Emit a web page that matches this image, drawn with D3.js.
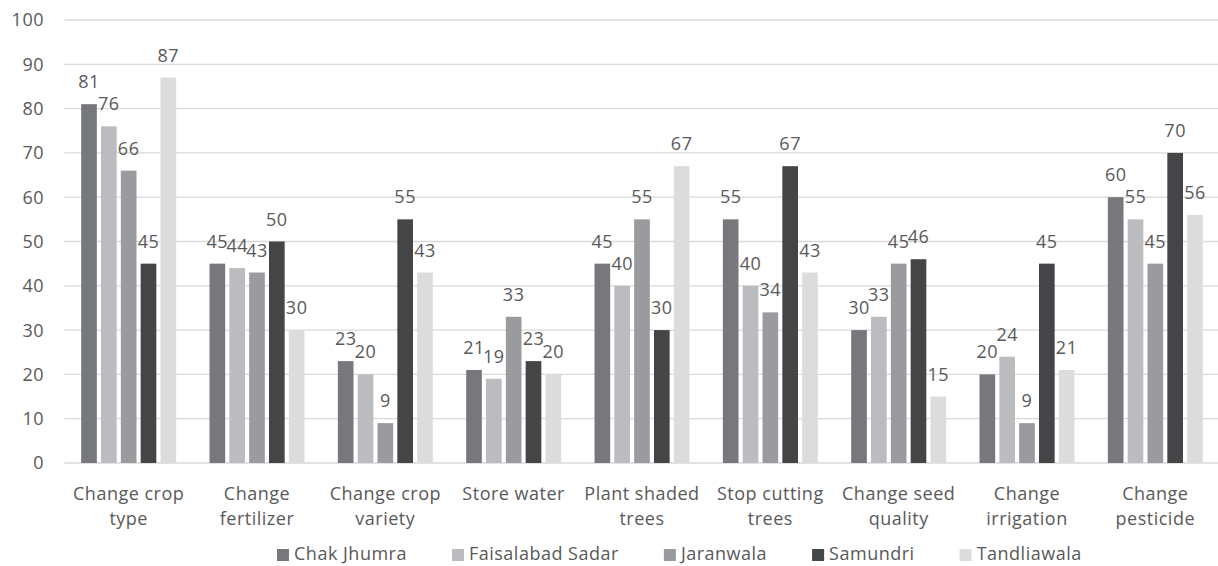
<html>
<meta charset='utf-8'>
<head>
    <script src="https://d3js.org/d3.v7.min.js"></script>
    <style>
      body { margin: 0; background: #fff; }
      text { font-family: "Open Sans", sans-serif; fill: #595959; font-size: 18px; letter-spacing: 0.5px; }
    </style>
</head>
<body>
<div id='viz'></div>
<script>
    // chart data
    let categories = [
      ['Change crop', 'type'],
      ['Change', 'fertilizer'],
      ['Change crop', 'variety'],
      ['Store water'],
      ['Plant shaded', 'trees'],
      ['Stop cutting', 'trees'],
      ['Change seed', 'quality'],
      ['Change', 'irrigation'],
      ['Change', 'pesticide']
    ];
    let districts = ['Chak Jhumra', 'Faisalabad Sadar', 'Jaranwala', 'Samundri', 'Tandliawala'];
    let chakJhumra      = [81, 45, 23, 21, 45, 55, 30, 20, 60];
    let faisalabadSadar = [76, 44, 20, 19, 40, 40, 33, 24, 55];
    let jaranwala       = [66, 43, 9, 33, 55, 34, 45, 9, 45];
    let samundri        = [45, 50, 55, 23, 30, 67, 46, 45, 70];
    let tandliawala     = [87, 30, 43, 20, 67, 43, 15, 21, 56];
    let yTicks = [0, 10, 20, 30, 40, 50, 60, 70, 80, 90, 100];

    let series = [chakJhumra, faisalabadSadar, jaranwala, samundri, tandliawala];
    let colors = ['#77787b', '#bbbcbf', '#9a9b9e', '#444547', '#dcdcde'];

    let width = 1218, height = 566;
    let plotLeft = 64.5, plotRight = 1219.5, plotTop = 20, plotBottom = 463;

    let svg = d3.select('#viz').append('svg')
                .attr('width', width)
                .attr('height', height);

    let x0 = d3.scaleBand()
               .domain(d3.range(categories.length))
               .range([plotLeft, plotRight])
               .paddingInner(0.26)
               .paddingOuter(0.13);
    let x1 = d3.scaleBand()
               .domain(d3.range(districts.length))
               .range([0, x0.bandwidth()])
               .paddingInner(0.21);
    let y = d3.scaleLinear().domain([0, 100]).range([plotBottom, plotTop]);

    // gridlines
    svg.append('g')
       .selectAll('line')
       .data(yTicks)
       .join('line')
       .attr('x1', plotLeft)
       .attr('x2', plotRight)
       .attr('y1', d => y(d))
       .attr('y2', d => y(d))
       .attr('stroke', '#d9d9d9')
       .attr('stroke-width', 1.3);

    // y tick labels
    svg.append('g')
       .selectAll('text')
       .data(yTicks)
       .join('text')
       .attr('x', 44)
       .attr('y', d => y(d))
       .attr('dy', '0.36em')
       .attr('text-anchor', 'end')
       .text(d => d);

    // bars + labels
    series.forEach((vals, s) => {
      let g = svg.append('g');
      g.selectAll('rect')
       .data(vals)
       .join('rect')
       .attr('x', (d, i) => x0(i) + x1(s))
       .attr('width', x1.bandwidth())
       .attr('y', d => y(d))
       .attr('height', d => y(0) - y(d))
       .attr('fill', colors[s]);

      g.selectAll('text')
       .data(vals)
       .join('text')
       .attr('x', (d, i) => x0(i) + x1(s) + x1.bandwidth() / 2)
       .attr('y', d => y(d) - 16)
       .attr('text-anchor', 'middle')
       .text(d => d);
    });

    // category labels
    categories.forEach((lines, i) => {
      let t = svg.append('text')
                 .attr('x', x0(i) + x0.bandwidth() / 2)
                 .attr('y', 500)
                 .attr('text-anchor', 'middle');
      lines.forEach((l, k) => {
        t.append('tspan')
         .attr('x', x0(i) + x0.bandwidth() / 2)
         .attr('dy', k == 0 ? 0 : 25)
         .text(l);
      });
    });

    // legend
    let legend = svg.append('g');
    let lx = 277;
    districts.forEach((name, s) => {
      legend.append('rect')
            .attr('x', lx)
            .attr('y', 549)
            .attr('width', 12)
            .attr('height', 12)
            .attr('fill', colors[s]);
      let t = legend.append('text')
                    .attr('x', lx + 17)
                    .attr('y', 560)
                    .text(name);
      lx = lx + 17 + t.node().getComputedTextLength() + 45;
    });
</script>
</body>
</html>
